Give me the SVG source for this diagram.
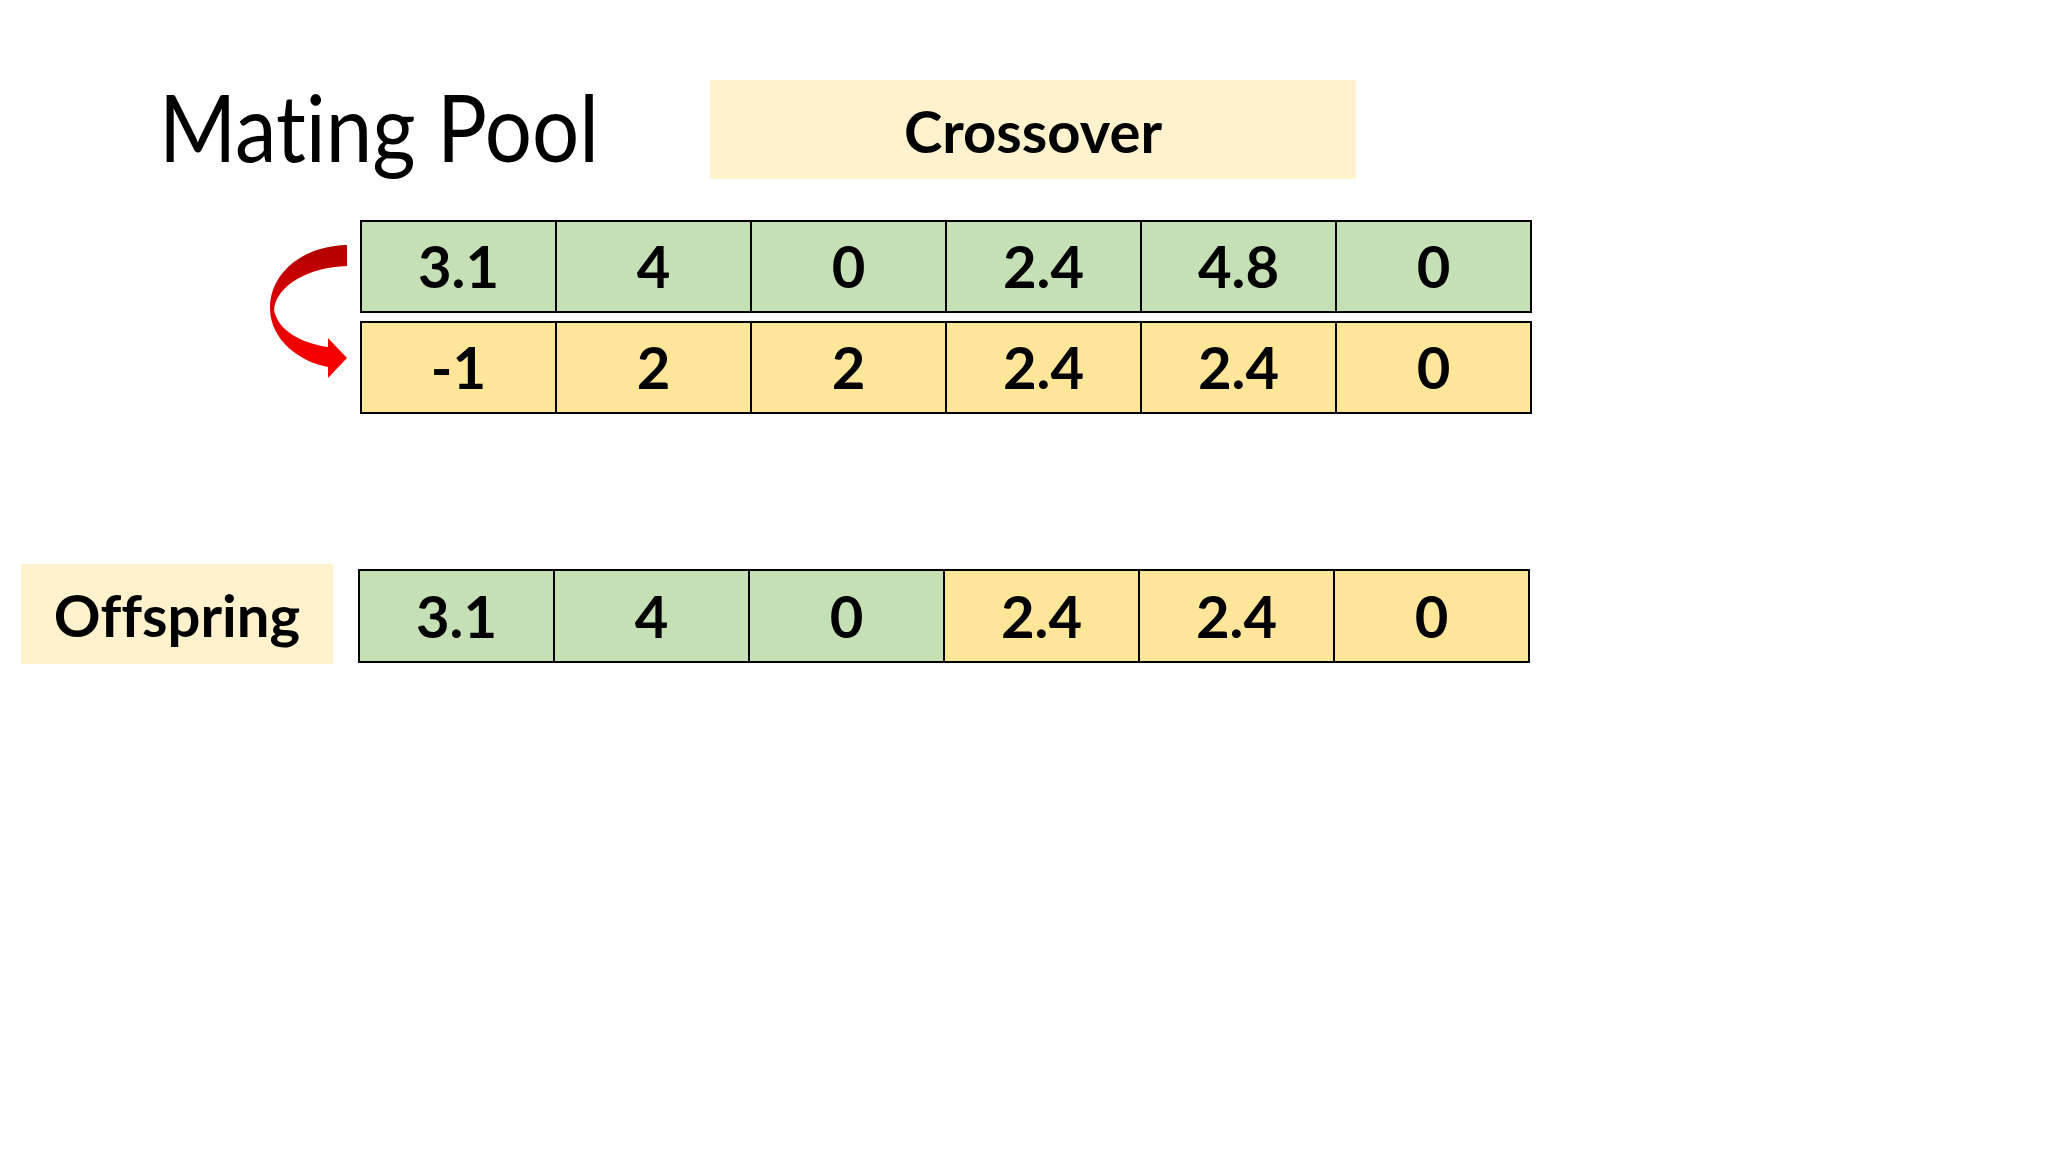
<svg xmlns="http://www.w3.org/2000/svg" width="2048" height="1152" viewBox="0 0 2048 1152">
<defs>
<style>
.g{fill:#C5E0B4;stroke:#000;stroke-width:2}
.y{fill:#FFE699;stroke:#000;stroke-width:2}
.lbl{fill:#FFF2CC}
.n{font-family:Lato,"Open Sans","Liberation Sans",sans-serif;font-weight:bold;font-size:58px;fill:#000;text-anchor:middle}
.t{font-family:Lato,"Open Sans","Liberation Sans",sans-serif;font-size:94px;fill:#000;font-variant-ligatures:none;font-feature-settings:"liga" 0}
.b{font-family:Lato,"Open Sans","Liberation Sans",sans-serif;font-weight:bold;font-size:58px;fill:#000;text-anchor:middle;font-variant-ligatures:none}
</style>
<linearGradient id="red" x1="0" y1="0" x2="0" y2="1">
<stop offset="0" stop-color="#B00000"/>
<stop offset="0.5" stop-color="#E00000"/>
<stop offset="1" stop-color="#FF0000"/>
</linearGradient>
</defs>
<rect width="2048" height="1152" fill="#FFFFFF"/>

<g id="title">
<text class="t" x="159" y="162" textLength="440" lengthAdjust="spacingAndGlyphs">Mating Pool</text>
</g>

<g id="crossover-label">
<rect class="lbl" x="710" y="80" width="646" height="99"/>
<text class="b" x="1033" y="153">Crossover</text>
</g>

<g id="parent1">
<rect class="g" x="361" y="221" width="195" height="91"/>
<rect class="g" x="556" y="221" width="195" height="91"/>
<rect class="g" x="751" y="221" width="195" height="91"/>
<rect class="g" x="946" y="221" width="195" height="91"/>
<rect class="g" x="1141" y="221" width="195" height="91"/>
<rect class="g" x="1336" y="221" width="195" height="91"/>
<text class="n" x="458.5" y="288">3.1</text>
<text class="n" x="653.5" y="288">4</text>
<text class="n" x="848.5" y="288">0</text>
<text class="n" x="1043.5" y="288">2.4</text>
<text class="n" x="1238.5" y="288">4.8</text>
<text class="n" x="1433.5" y="288">0</text>
</g>

<g id="parent2">
<rect class="y" x="361" y="322" width="195" height="91"/>
<rect class="y" x="556" y="322" width="195" height="91"/>
<rect class="y" x="751" y="322" width="195" height="91"/>
<rect class="y" x="946" y="322" width="195" height="91"/>
<rect class="y" x="1141" y="322" width="195" height="91"/>
<rect class="y" x="1336" y="322" width="195" height="91"/>
<text class="n" x="458.5" y="389">-1</text>
<text class="n" x="653.5" y="389">2</text>
<text class="n" x="848.5" y="389">2</text>
<text class="n" x="1043.5" y="389">2.4</text>
<text class="n" x="1238.5" y="389">2.4</text>
<text class="n" x="1433.5" y="389">0</text>
</g>

<g id="offspring-label">
<rect class="lbl" x="21" y="564" width="312" height="100"/>
<text class="b" x="177" y="637">Offspring</text>
</g>

<g id="offspring">
<rect class="g" x="359" y="570" width="195" height="92"/>
<rect class="g" x="554" y="570" width="195" height="92"/>
<rect class="g" x="749" y="570" width="195" height="92"/>
<rect class="y" x="944" y="570" width="195" height="92"/>
<rect class="y" x="1139" y="570" width="195" height="92"/>
<rect class="y" x="1334" y="570" width="195" height="92"/>
<text class="n" x="456.5" y="638">3.1</text>
<text class="n" x="651.5" y="638">4</text>
<text class="n" x="846.5" y="638">0</text>
<text class="n" x="1041.5" y="638">2.4</text>
<text class="n" x="1236.5" y="638">2.4</text>
<text class="n" x="1431.5" y="638">0</text>
</g>

<g id="connectors">
<path fill="url(#red)" d="M 347 245 C 300 246, 270 275, 270 308 C 270 340, 300 362, 328 367 L 328 378 L 347 358 L 328 338 L 328 347 C 300 343, 278 330, 274 310 C 276 285, 310 267, 347 266 Z"/>
</g>
</svg>
